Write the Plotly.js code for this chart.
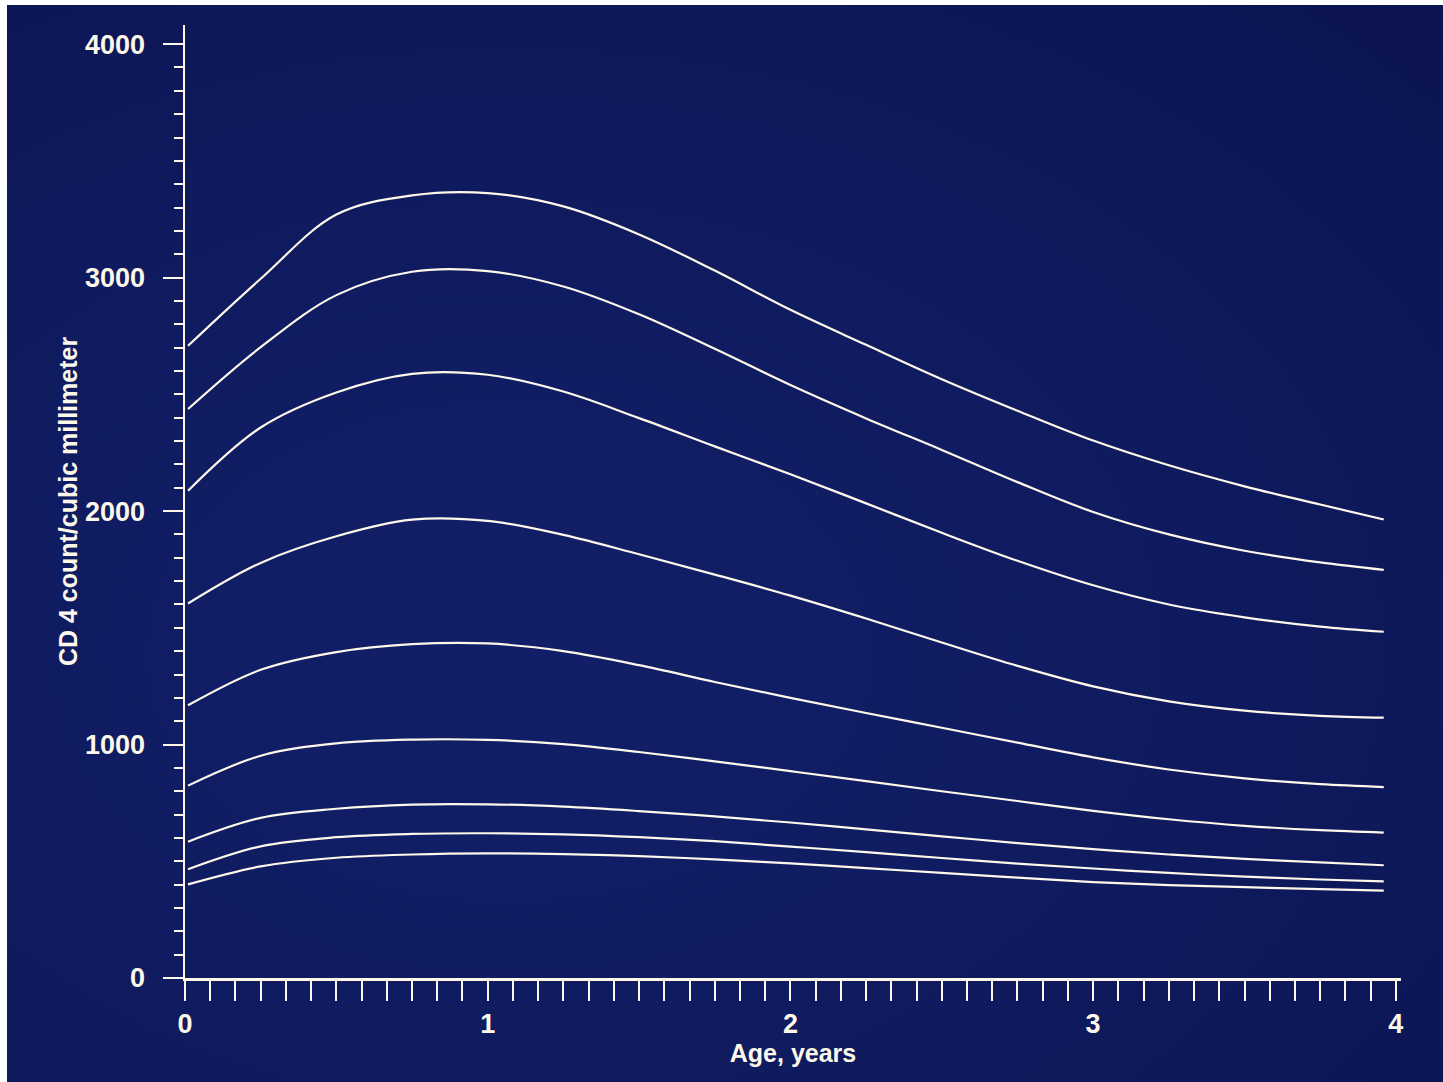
<!DOCTYPE html>
<html>
<head>
<meta charset="utf-8">
<script src="https://cdn.plot.ly/plotly-3.0.1.min.js"></script>
<style>
  html, body { margin: 0; padding: 0; background: #ffffff; width: 1443px; height: 1082px; overflow: hidden; }
  #chart { position: absolute; left: 7px; top: 5px; width: 1436px; height: 1077px;
           background: radial-gradient(ellipse at 35% 60%, #121f68 0%, #0f1a5e 55%, #0b1450 100%); }
</style>
</head>
<body>
<div id="chart"></div>
<script>
// Age in years
const ageYears = [0.01, 0.25, 0.5, 0.75, 1.0, 1.25, 1.5, 1.75, 2.0, 2.25, 2.5, 2.75, 3.0, 3.25, 3.5, 3.75, 3.96];

// CD4 count / mm^3 — nine reference curves, top to bottom
const curve1 = [2708, 2995, 3270, 3352, 3362, 3305, 3185, 3030, 2862, 2712, 2565, 2430, 2302, 2196, 2106, 2028, 1964];
const curve2 = [2437, 2702, 2925, 3025, 3028, 2962, 2843, 2695, 2540, 2397, 2262, 2124, 1996, 1900, 1830, 1780, 1748];
const curve3 = [2087, 2358, 2508, 2588, 2584, 2512, 2398, 2277, 2158, 2033, 1907, 1787, 1682, 1600, 1545, 1505, 1483];
const curve4 = [1604, 1778, 1892, 1963, 1958, 1898, 1815, 1728, 1638, 1540, 1437, 1337, 1249, 1185, 1145, 1123, 1115];
const curve5 = [1168, 1320, 1396, 1430, 1433, 1400, 1340, 1268, 1200, 1135, 1072, 1008, 945, 893, 855, 830, 818];
const curve6 = [824, 952, 1005, 1021, 1020, 1002, 968, 928, 886, 843, 800, 758, 716, 680, 652, 633, 623];
const curve7 = [584, 686, 725, 743, 744, 734, 715, 692, 666, 637, 607, 578, 552, 529, 510, 495, 483];
const curve8 = [466, 564, 603, 617, 620, 615, 603, 586, 563, 539, 514, 490, 469, 450, 434, 422, 414];
const curve9 = [401, 478, 515, 529, 534, 531, 522, 508, 491, 471, 450, 430, 411, 398, 389, 381, 374];

const curves = [curve1, curve2, curve3, curve4, curve5, curve6, curve7, curve8, curve9];

// Axis ticks
const xTickVals = [0, 1, 2, 3, 4];
const xTickText = ['0', '1', '2', '3', '4'];
const yTickVals = [0, 1000, 2000, 3000, 4000];
const yTickText = ['0', '1000', '2000', '3000', '4000'];

const xTitle = 'Age, years';
const yTitle = 'CD 4 count/cubic millimeter';

const ink = '#fdf8ea';
const fontFamily = '"Liberation Sans", Arial, Helvetica, sans-serif';

const traces = curves.map(c => ({
  x: ageYears,
  y: c,
  type: 'scatter',
  mode: 'lines',
  line: { color: ink, width: 2.2, shape: 'spline', smoothing: 1.0 },
  hoverinfo: 'x+y',
  showlegend: false
}));

const layout = {
  width: 1436,
  height: 1077,
  margin: { l: 178, r: 42, t: 20, b: 104 },
  paper_bgcolor: 'rgba(0,0,0,0)',
  plot_bgcolor: 'rgba(0,0,0,0)',
  showlegend: false,
  font: { family: fontFamily, color: ink },
  xaxis: {
    range: [0, 4.017],
    showgrid: false,
    zeroline: false,
    showline: true,
    linecolor: ink,
    linewidth: 2.5,
    ticks: 'outside',
    ticklen: 20,
    tickwidth: 2,
    tickcolor: ink,
    tickmode: 'array',
    tickvals: xTickVals,
    ticktext: xTickText,
    tickfont: { size: 27, weight: 'bold', color: ink, family: fontFamily },
    minor: { ticks: 'outside', dtick: 1/12, tick0: 0, ticklen: 20, tickwidth: 2, tickcolor: ink, showgrid: false },
    title: { text: xTitle, font: { size: 25, weight: 'bold', color: ink, family: fontFamily }, standoff: 4 },
    fixedrange: true
  },
  yaxis: {
    range: [0, 4082],
    showgrid: false,
    zeroline: false,
    showline: true,
    linecolor: ink,
    linewidth: 2.5,
    ticks: 'outside',
    ticklen: 20,
    tickwidth: 2,
    tickcolor: ink,
    tickmode: 'array',
    tickvals: yTickVals,
    ticktext: yTickText,
    ticklabelstandoff: 12,
    tickfont: { size: 27, weight: 'bold', color: ink, family: fontFamily },
    minor: { ticks: 'outside', dtick: 100, tick0: 0, ticklen: 9, tickwidth: 2, tickcolor: ink, showgrid: false },
    title: { text: yTitle, font: { size: 25, weight: 'bold', color: ink, family: fontFamily }, standoff: 1 },
    fixedrange: true
  }
};

Plotly.newPlot('chart', traces, layout, { displayModeBar: false, staticPlot: true });
</script>
</body>
</html>
